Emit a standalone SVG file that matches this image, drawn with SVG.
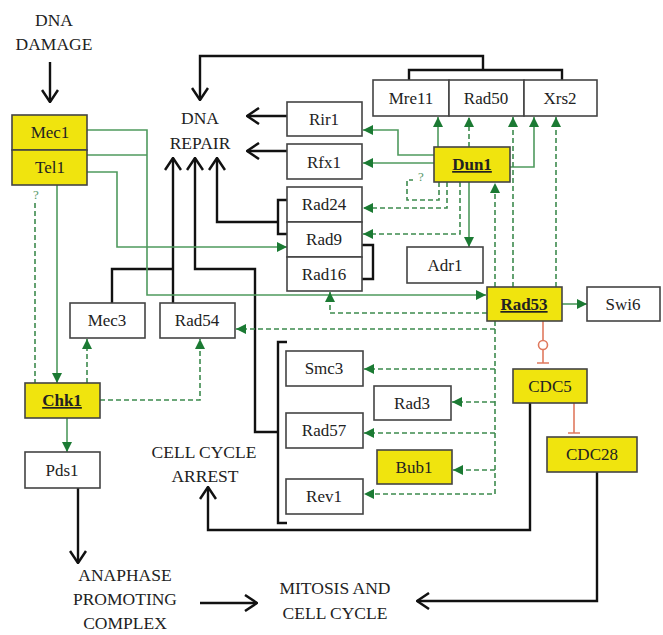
<svg xmlns="http://www.w3.org/2000/svg" width="663" height="635" viewBox="0 0 663 635">
<style>
.bx{fill:#fff;stroke:#444;stroke-width:1.6}
.yl{fill:#f0e40e;stroke:#444;stroke-width:1.6}
.t{font-family:"Liberation Serif","Times New Roman",serif;font-size:17px;fill:#222;text-anchor:middle}
.lb{font-family:"Liberation Serif","Times New Roman",serif;font-size:17.5px;fill:#222;text-anchor:middle}
.b{font-weight:bold;text-decoration:underline}
.k{fill:none;stroke:#111;stroke-width:2.4}
.g{fill:none;stroke:#4f9a5e;stroke-width:1.6}
.d{fill:none;stroke:#3d8a4e;stroke-width:1.6;stroke-dasharray:5 3}
.r{fill:none;stroke:#e07a5f;stroke-width:1.6}
.q{font-family:"Liberation Serif",serif;font-size:13px;fill:#5a9a6a;text-anchor:middle}
</style>
<defs>
<marker id="ab" viewBox="0 0 14 18" refX="13" refY="9" markerWidth="14" markerHeight="18" markerUnits="userSpaceOnUse" orient="auto"><path d="M1,1 L13,9 L1,17" fill="none" stroke="#111" stroke-width="2.5"/></marker>
<marker id="ag" viewBox="0 0 10 10" refX="10" refY="5" markerWidth="10" markerHeight="10" markerUnits="userSpaceOnUse" orient="auto"><path d="M0,0 L10,5 L0,10 z" fill="#1b7a33"/></marker>
</defs>

<g id="labels">
<text class="lb" x="54" y="26">DNA</text>
<text class="lb" x="54" y="50">DAMAGE</text>
<text class="lb" x="200" y="124">DNA</text>
<text class="lb" x="200" y="149">REPAIR</text>
<text class="lb" x="204" y="458">CELL CYCLE</text>
<text class="lb" x="205" y="482">ARREST</text>
<text class="lb" x="125" y="581">ANAPHASE</text>
<text class="lb" x="125" y="605">PROMOTING</text>
<text class="lb" x="125" y="629">COMPLEX</text>
<text class="lb" x="335" y="594">MITOSIS AND</text>
<text class="lb" x="335" y="619">CELL CYCLE</text>
</g>

<g id="connectors">
<path class="k" d="M50,62 V102" marker-end="url(#ab)"/>
<path class="k" d="M409,80 V70 H562 V80"/>
<path class="k" d="M483,70 V56 H200 V100" marker-end="url(#ab)"/>
<path class="k" d="M287,116 H247" marker-end="url(#ab)"/>
<path class="k" d="M287,151 H247" marker-end="url(#ab)"/>
<path class="k" d="M173,303 V158" marker-end="url(#ab)"/>
<path class="k" d="M173,269 H112 V303"/>
<path class="k" d="M278,432 H255 V269 H195 V158" marker-end="url(#ab)"/>
<path class="k" d="M278,222 H217 V158" marker-end="url(#ab)"/>
<path class="k" d="M287,200 H278 V234 H287"/>
<path class="k" d="M362,245 H373 V279 H362"/>
<path class="k" d="M287,342 H278 V523 H287"/>
<path class="k" d="M78,488 V563" marker-end="url(#ab)"/>
<path class="k" d="M200,603 H257" marker-end="url(#ab)"/>
<path class="k" d="M597,472 V601 H417" marker-end="url(#ab)"/>
<path class="k" d="M530,403 V530 H208 V487" marker-end="url(#ab)"/>

<path class="g" d="M87,130 H147 V295 H486" marker-end="url(#ag)"/>
<path class="g" d="M87,155 H147"/>
<path class="g" d="M87,172 H117 V247 H287" marker-end="url(#ag)"/>
<path class="g" d="M57,185 V383" marker-end="url(#ag)"/>
<path class="g" d="M67,418 V452" marker-end="url(#ag)"/>
<path class="g" d="M434,155 H398 V130 H363" marker-end="url(#ag)"/>
<path class="g" d="M434,163 H363" marker-end="url(#ag)"/>
<path class="g" d="M438,147 V117" marker-end="url(#ag)"/>
<path class="g" d="M510,167 H534 V117" marker-end="url(#ag)"/>
<path class="g" d="M469,182 V247" marker-end="url(#ag)"/>
<path class="g" d="M562,304 H587" marker-end="url(#ag)"/>

<path class="d" d="M35,203 V383"/>
<text class="q" x="36" y="199">?</text>
<path class="d" d="M87,383 V339" marker-end="url(#ag)"/>
<path class="d" d="M100,400 H200 V339" marker-end="url(#ag)"/>
<path class="d" d="M469,147 V117" marker-end="url(#ag)"/>
<path class="d" d="M513,287 V117" marker-end="url(#ag)"/>
<path class="d" d="M556,287 V117" marker-end="url(#ag)"/>
<path class="d" d="M495,287 V183" marker-end="url(#ag)"/>
<path class="d" d="M439,182 V200 H407 V180 H413"/>
<text class="q" x="421" y="181">?</text>
<path class="d" d="M447,182 V208 H363" marker-end="url(#ag)"/>
<path class="d" d="M460,182 V234 H363" marker-end="url(#ag)"/>
<path class="d" d="M487,313 H330 V292" marker-end="url(#ag)"/>
<path class="d" d="M495,321 V494 H364" marker-end="url(#ag)"/>
<path class="d" d="M495,329 H236" marker-end="url(#ag)"/>
<path class="d" d="M495,369 H364" marker-end="url(#ag)"/>
<path class="d" d="M495,402 H452" marker-end="url(#ag)"/>
<path class="d" d="M495,433 H364" marker-end="url(#ag)"/>
<path class="d" d="M495,470 H453" marker-end="url(#ag)"/>

<path class="r" d="M543,321 V340.5 M543,349.5 V363 M537,363 H549"/>
<circle class="r" cx="543" cy="345" r="4.5"/>
<path class="r" d="M574,403 V433 M568,433 H580"/>
</g>

<g id="Mec1"><rect class="yl" x="12" y="115" width="75" height="35"/><text class="t" x="50" y="138">Mec1</text></g>
<g id="Tel1"><rect class="yl" x="12" y="150" width="75" height="35"/><text class="t" x="50" y="173">Tel1</text></g>
<g id="Rir1"><rect class="bx" x="287" y="102" width="75" height="34"/><text class="t" x="324" y="125">Rir1</text></g>
<g id="Rfx1"><rect class="bx" x="287" y="144" width="75" height="35"/><text class="t" x="324" y="168">Rfx1</text></g>
<g id="Mre11"><rect class="bx" x="373" y="80" width="76" height="36"/><text class="t" x="411" y="104">Mre11</text></g>
<g id="Rad50"><rect class="bx" x="449" y="80" width="75" height="36"/><text class="t" x="486" y="104">Rad50</text></g>
<g id="Xrs2"><rect class="bx" x="524" y="80" width="73" height="36"/><text class="t" x="560" y="104">Xrs2</text></g>
<g id="Dun1"><rect class="yl" x="434" y="147" width="76" height="35"/><text class="t b" x="472" y="170">Dun1</text></g>
<g id="Rad24"><rect class="bx" x="287" y="187" width="75" height="35"/><text class="t" x="324" y="210">Rad24</text></g>
<g id="Rad9"><rect class="bx" x="287" y="222" width="75" height="35"/><text class="t" x="324" y="245">Rad9</text></g>
<g id="Rad16"><rect class="bx" x="287" y="257" width="75" height="34"/><text class="t" x="324" y="280">Rad16</text></g>
<g id="Adr1"><rect class="bx" x="407" y="247" width="76" height="36"/><text class="t" x="445" y="271">Adr1</text></g>
<g id="Mec3"><rect class="bx" x="70" y="303" width="75" height="35"/><text class="t" x="107" y="326">Mec3</text></g>
<g id="Rad54"><rect class="bx" x="160" y="303" width="75" height="35"/><text class="t" x="197" y="326">Rad54</text></g>
<g id="Rad53"><rect class="yl" x="487" y="287" width="75" height="34"/><text class="t b" x="524" y="310">Rad53</text></g>
<g id="Swi6"><rect class="bx" x="587" y="287" width="73" height="34"/><text class="t" x="623" y="310">Swi6</text></g>
<g id="Chk1"><rect class="yl" x="25" y="383" width="75" height="35"/><text class="t b" x="62" y="406">Chk1</text></g>
<g id="Pds1"><rect class="bx" x="25" y="452" width="75" height="36"/><text class="t" x="62" y="476">Pds1</text></g>
<g id="Smc3"><rect class="bx" x="286" y="351" width="77" height="35"/><text class="t" x="324" y="374">Smc3</text></g>
<g id="Rad3"><rect class="bx" x="374" y="386" width="77" height="34"/><text class="t" x="412" y="409">Rad3</text></g>
<g id="Rad57"><rect class="bx" x="286" y="413" width="77" height="35"/><text class="t" x="324" y="436">Rad57</text></g>
<g id="Bub1"><rect class="yl" x="377" y="450" width="75" height="34"/><text class="t" x="414" y="473">Bub1</text></g>
<g id="Rev1"><rect class="bx" x="286" y="479" width="77" height="35"/><text class="t" x="324" y="502">Rev1</text></g>
<g id="CDC5"><rect class="yl" x="513" y="369" width="74" height="34"/><text class="t" x="550" y="392">CDC5</text></g>
<g id="CDC28"><rect class="yl" x="547" y="437" width="90" height="35"/><text class="t" x="592" y="460">CDC28</text></g>
</svg>
